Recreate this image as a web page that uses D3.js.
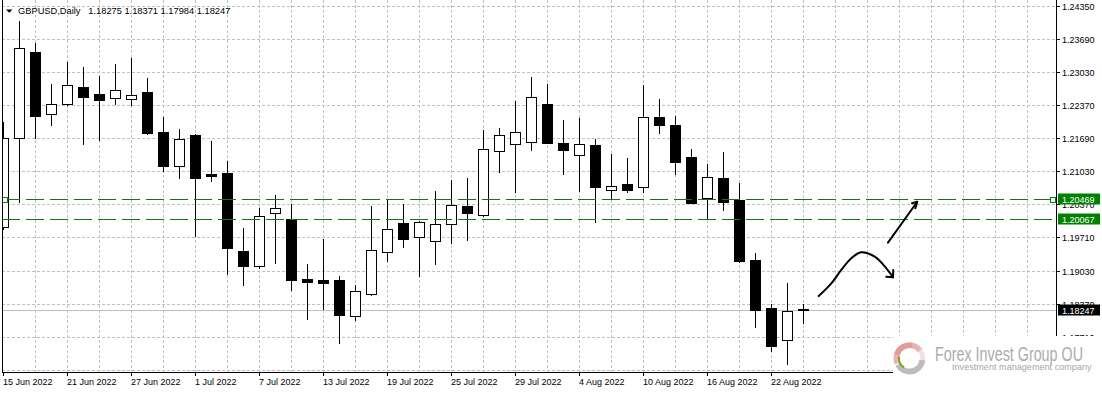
<!DOCTYPE html>
<html><head><meta charset="utf-8">
<script src="https://cdn.jsdelivr.net/npm/d3@7/dist/d3.min.js"></script>
<style>
html,body{margin:0;padding:0;background:#fff;overflow:hidden;}
svg{display:block;}
text{font-family:"Liberation Sans",Arial,sans-serif;}
</style></head><body>
<svg id="c" width="1102" height="393"></svg>
<script>
// ---------- data ----------
const dates = ["2022-06-15","2022-06-16","2022-06-17","2022-06-20","2022-06-21","2022-06-22","2022-06-23","2022-06-24","2022-06-27","2022-06-28","2022-06-29","2022-06-30",
"2022-07-01","2022-07-04","2022-07-05","2022-07-06","2022-07-07","2022-07-08","2022-07-11","2022-07-12","2022-07-13","2022-07-14","2022-07-15","2022-07-18","2022-07-19","2022-07-20","2022-07-21","2022-07-22","2022-07-25","2022-07-26","2022-07-27","2022-07-28","2022-07-29",
"2022-08-01","2022-08-02","2022-08-03","2022-08-04","2022-08-05","2022-08-08","2022-08-09","2022-08-10","2022-08-11","2022-08-12","2022-08-15","2022-08-16","2022-08-17","2022-08-18","2022-08-19","2022-08-22","2022-08-23","2022-08-24"];
const open = [1.19918,1.21693,1.23420,1.22175,1.22376,1.22717,1.22577,1.22497,1.22477,1.22617,
1.21814,1.21143,1.21754,1.20971,1.20997,1.19430,1.19123,1.20187,1.20073,1.18862,
1.18842,1.18842,1.18119,1.18561,1.19404,1.19987,1.19706,1.19625,1.19967,1.20334,
1.20147,1.21432,1.21573,1.21613,1.22382,1.21593,1.21352,1.21553,1.20649,1.20770,
1.20709,1.22115,1.21960,1.21318,1.20501,1.20896,1.20455,1.19250,1.18286,1.17637,1.18275];
const high = [1.22027,1.24055,1.23601,1.22784,1.23226,1.23119,1.22944,1.23185,1.23300,1.22904,
1.22127,1.21880,1.21774,1.21639,1.21238,1.19892,1.20294,1.20549,1.20374,1.19169,
1.19677,1.18928,1.18748,1.20334,1.20468,1.20374,1.20027,1.20635,1.20856,1.20896,
1.21860,1.21894,1.22436,1.22924,1.22784,1.22061,1.22101,1.21679,1.21378,1.21298,
1.22764,1.22483,1.22141,1.21479,1.21177,1.21418,1.20796,1.19390,1.18366,1.18788,1.18371];
const low = [1.19866,1.20408,1.21705,1.21960,1.22356,1.21579,1.21659,1.22382,1.22356,1.21780,
1.21037,1.20902,1.19738,1.20842,1.18969,1.18754,1.19083,1.19196,1.18653,1.18071,
1.18266,1.17589,1.18051,1.18550,1.19230,1.19517,1.18928,1.19169,1.19597,1.19645,
1.20130,1.21023,1.20621,1.21465,1.21589,1.20983,1.20641,1.20019,1.20468,1.20621,
1.20621,1.21806,1.20983,1.20394,1.20067,1.20260,1.19210,1.17910,1.17422,1.17167,1.17984];
const close = [1.21693,1.23501,1.22147,1.22376,1.22758,1.22529,1.22469,1.22657,1.22557,1.21806,
1.21143,1.21673,1.20902,1.20942,1.19497,1.19135,1.20127,1.20288,1.18854,1.18814,
1.18794,1.18151,1.18621,1.19444,1.19866,1.19665,1.20007,1.19967,1.20348,1.20200,
1.21473,1.21754,1.21814,1.22517,1.21605,1.21452,1.21573,1.20722,1.20736,1.20661,
1.22115,1.21967,1.21224,1.20400,1.20910,1.20420,1.19236,1.18252,1.17529,1.18226,1.18247];

const priceTicks = ["1.24350","1.23690","1.23030","1.22370","1.21690","1.21030","1.20370","1.19710","1.19030","1.18370","1.17710"];
const extraGridTicks = [1.17050];
const dateTickIndex = [0,4,8,12,16,20,24,28,32,36,40,44,48];
const dateTickLabels = ["15 Jun 2022","21 Jun 2022","27 Jun 2022","1 Jul 2022","7 Jul 2022","13 Jul 2022","19 Jul 2022","25 Jul 2022","29 Jul 2022","4 Aug 2022","10 Aug 2022","16 Aug 2022","22 Aug 2022"];
const titleSymbol = "GBPUSD,Daily";
const titleValues = ["1.18275","1.18371","1.17984","1.18247"];
const levels = [1.20469, 1.20067];
const bidPrice = 1.18247;
// hand-drawn annotations, in (bar index, price)
const curvePts = [[50.95,1.18527],[51.74,1.18782],[52.36,1.19049],[52.99,1.19284],[53.61,1.19404],[54.45,1.19316],[55.18,1.19083],[55.59,1.18902]];
const curveHead = [[55.17,1.18914],[55.59,1.18902],[55.61,1.19049]];
const straightPts = [[55.28,1.19597],[57.11,1.20420]];
const straightHead = [[56.78,1.20388],[57.11,1.20420],[56.99,1.20288]];
const logoTitle = "Forex Invest Group OU";
const logoSub = "Investment management company";

// ---------- layout ----------
const W = 1102, H = 393;
const L = 2, R = 1056, B = 372;
const svg = d3.select("#c");
const x = d3.scaleLinear().domain([0, 1]).range([3.5, 19.5]);
const y = d3.scaleLinear().domain([1.24350, 1.17710]).range([6, 336.67]);
const px = i => Math.floor(x(i)) + 0.5;
const py = v => Math.round(y(v));

svg.append("defs").append("clipPath").attr("id","plot")
  .append("rect").attr("x", L+1).attr("y", 0).attr("width", R-L-1).attr("height", B);

// grid
const grid = svg.append("g").attr("stroke","#c0c0c0").attr("stroke-dasharray","3,2").attr("shape-rendering","crispEdges");
d3.range(2, 66, 2).forEach(i => {
  const gx = px(i);
  if (gx < R) grid.append("line").attr("x1",gx).attr("x2",gx).attr("y1",0).attr("y2",B);
});
priceTicks.map(Number).concat(extraGridTicks).forEach(t => {
  const gy = py(t) + 0.5;
  grid.append("line").attr("x1",L).attr("x2",R).attr("y1",gy).attr("y2",gy);
});

// bid line
svg.append("line").attr("x1",L).attr("x2",R+1).attr("y1",py(bidPrice)+0.5).attr("y2",py(bidPrice)+0.5)
  .attr("stroke","#c0c0c0").attr("shape-rendering","crispEdges");

// candles
const cg = svg.append("g").attr("clip-path","url(#plot)").attr("shape-rendering","crispEdges");
dates.forEach((d, i) => {
  const cx = px(i);
  cg.append("line").attr("x1",cx).attr("x2",cx).attr("y1",py(high[i])).attr("y2",py(low[i])+1)
    .attr("stroke","#000");
  const t = Math.min(py(open[i]), py(close[i]));
  const b = Math.max(py(open[i]), py(close[i]));
  const bull = close[i] >= open[i];
  cg.append("rect").attr("x",cx-5).attr("y",t+0.5).attr("width",10).attr("height",Math.max(1,b-t))
    .attr("fill", bull ? "#fff" : "#000").attr("stroke","#000");
});

// horizontal levels
levels.forEach((lv, k) => {
  const ly = py(lv) + 0.5;
  svg.append("line").attr("x1",L).attr("x2",R).attr("y1",ly).attr("y2",ly)
    .attr("stroke","#0c7a0c").attr("stroke-dasharray","18,6").attr("shape-rendering","crispEdges");
  if (k === 0) {
    [5, 1053].forEach(sx => svg.append("rect").attr("x",sx-2.5).attr("y",ly-2.5).attr("width",5).attr("height",5)
      .attr("fill","#fff").attr("stroke","#0c7a0c").attr("shape-rendering","crispEdges"));
  }
});

// annotations
const lineGen = d3.line().x(d => x(d[0])).y(d => y(d[1]));
const ann = svg.append("g").attr("fill","none").attr("stroke","#000").attr("stroke-width",2)
  .attr("stroke-linecap","round").attr("stroke-linejoin","round");
ann.append("path").attr("d", d3.line().x(d => x(d[0])).y(d => y(d[1])).curve(d3.curveCatmullRom)(curvePts));
ann.append("path").attr("d", lineGen(curveHead));
ann.append("path").attr("d", lineGen(straightPts));
ann.append("path").attr("d", lineGen(straightHead));

// borders
const bd = svg.append("g").attr("stroke","#000").attr("shape-rendering","crispEdges");
bd.append("line").attr("x1",L+0.5).attr("x2",L+0.5).attr("y1",0).attr("y2",B+1);
bd.append("line").attr("x1",R+0.5).attr("x2",R+0.5).attr("y1",0).attr("y2",B+1);
bd.append("line").attr("x1",L).attr("x2",R+1).attr("y1",B+0.5).attr("y2",B+0.5);

// right axis labels
priceTicks.forEach(t => {
  const gy = py(+t) + 0.5;
  svg.append("line").attr("x1",R+1).attr("x2",R+4).attr("y1",gy).attr("y2",gy).attr("stroke","#000").attr("shape-rendering","crispEdges");
  svg.append("text").attr("x",1062).attr("y",gy+3.3).attr("font-size","9px").attr("fill","#000").text(t);
});

// bottom axis labels
dateTickIndex.forEach((idx, k) => {
  const tx = px(idx);
  svg.append("line").attr("x1",tx).attr("x2",tx).attr("y1",B).attr("y2",B+4).attr("stroke","#000").attr("shape-rendering","crispEdges");
  svg.append("text").attr("x",tx-0.5).attr("y",385).attr("font-size","9px").attr("fill","#000").text(dateTickLabels[k]);
});

// price boxes
const boxes = [[levels[0],"#008000"],[levels[1],"#008000"],[bidPrice,"#000"]];
boxes.forEach(([v, col]) => {
  const ly = py(v) + 0.5;
  svg.append("rect").attr("x",1058).attr("y",ly-6).attr("width",42).attr("height",11).attr("fill",col);
  svg.append("text").attr("x",1062).attr("y",ly+3.3).attr("font-size","9px").attr("fill","#fff").text(d3.format(".5f")(v));
});

// title
svg.append("path").attr("d","M6,9.5 L12.5,9.5 L9.25,12.8 Z").attr("fill","#000");
svg.append("text").attr("x",18).attr("y",14).attr("font-size","9.3px").attr("fill","#000").text(titleSymbol);
titleValues.forEach((v,k) => {
  svg.append("text").attr("x",88.3 + 36.15*k).attr("y",14).attr("font-size","9.3px").attr("fill","#000").text(v);
});

// logo
const lg = svg.append("g");
lg.append("rect").attr("x",893).attr("y",336).attr("width",W-893).attr("height",H-336).attr("fill","#fff");
const lcx = 909.5, lcy = 358.5;
const arc = d3.arc();
const ring = lg.append("g").attr("transform",`translate(${lcx},${lcy})`);
ring.append("path").attr("d", arc({innerRadius:11, outerRadius:15.5, startAngle:0, endAngle:2*Math.PI})).attr("fill","#f4dede");
ring.append("path").attr("d", arc({innerRadius:10.5, outerRadius:16, startAngle:-1.9, endAngle:0.9})).attr("fill","#e9b3b3");
ring.append("path").attr("d", arc({innerRadius:10.5, outerRadius:16, startAngle:-1.3, endAngle:0.2})).attr("fill","#e29c9c");
ring.append("path").attr("d", arc({innerRadius:10, outerRadius:16, startAngle:1.7, endAngle:4.2})).attr("fill","#bcbcbc");
ring.append("path").attr("d", arc({innerRadius:9.5, outerRadius:11.5, startAngle:3.7, endAngle:4.9})).attr("fill","#7fa01a");
lg.append("text").attr("x",935).attr("y",360.7).attr("font-size","19.5px").attr("fill","#ababab")
  .attr("font-family","'Liberation Sans Narrow','Liberation Sans',sans-serif")
  .attr("textLength",148).attr("lengthAdjust","spacingAndGlyphs").text(logoTitle);
lg.append("text").attr("x",952).attr("y",369.6).attr("font-size","9px").attr("fill","#a6a6a6")
  .attr("textLength",139.5).attr("lengthAdjust","spacing").text(logoSub);
</script>
</body></html>
